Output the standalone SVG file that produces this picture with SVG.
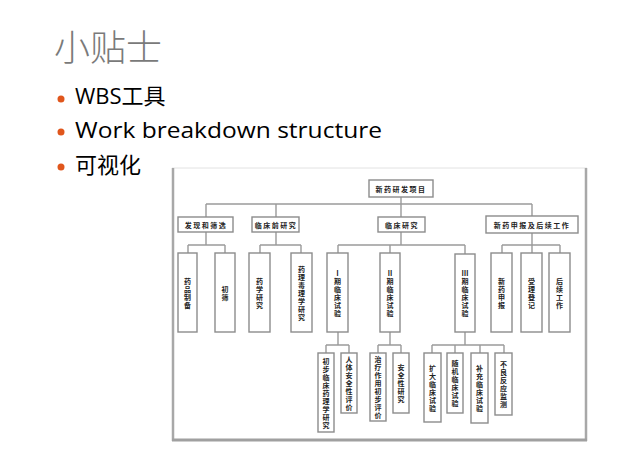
<svg xmlns="http://www.w3.org/2000/svg" width="640" height="458" viewBox="0 0 640 458">
<style>
.title{font-family:"Noto Sans CJK SC","Noto Sans",sans-serif;font-weight:300;font-size:36px;fill:#7a7a7a}
.bl{font-family:"Open Sans","Noto Sans CJK SC",sans-serif;font-size:22px;fill:#000}
.dot{fill:#e0561c}
.box{fill:#fff;stroke:#8c8c8c;stroke-width:1.4}
.ln{fill:none;stroke:#9a9a9a;stroke-width:1.4}
.t{font-family:"Noto Sans CJK SC",sans-serif;font-weight:700;font-size:7px;fill:#222;letter-spacing:1.5px;text-anchor:middle;dominant-baseline:central}
.v{letter-spacing:0}
</style>
<rect width="640" height="458" fill="#fff"/>
<text class="title" x="54" y="61">小贴士</text>
<circle class="dot" cx="61" cy="99" r="3.5"/>
<circle class="dot" cx="61" cy="132" r="3.5"/>
<circle class="dot" cx="61" cy="167" r="3.5"/>
<text class="bl" x="75" y="104">WBS工具</text>
<text class="bl" x="75" y="138" textLength="307" lengthAdjust="spacingAndGlyphs">Work breakdown structure</text>
<text class="bl" x="75" y="173">可视化</text>
<g id="frame">
<line x1="172" y1="168" x2="587" y2="168" stroke="#e2e2e2" stroke-width="1"/>
<line x1="173" y1="168" x2="173" y2="441" stroke="#a8a8a8" stroke-width="2.5"/>
<line x1="586" y1="168" x2="586" y2="441" stroke="#a8a8a8" stroke-width="2.5"/>
<line x1="172" y1="440" x2="587" y2="440" stroke="#a0a0a0" stroke-width="3"/>
</g>
<g id="connectors" class="ln">
<path d="M401 197V217M206 204H532M206 204V217M276 204V217M532 204V216"/>
<path d="M206 232V245M188 245H225M188 245V253M225 245V253"/>
<path d="M276 232V245M260 245H301M260 245V253M301 245V253"/>
<path d="M401 232V245M338 245H465M338 245V253M390 245V253M465 245V254"/>
<path d="M532 233V245M502 245H560M502 245V253M532 245V253M560 245V253"/>
<path d="M338 332V345M326 345H349M326 345V353M349 345V353"/>
<path d="M390 332V345M378 345H401M378 345V353M401 345V353"/>
<path d="M465 332V345M432 345H504M432 345V353M455 345V353M480 345V353M504 345V353"/>
</g>
<g id="n0"><rect class="box" x="369" y="180" width="64" height="17"/><text class="t" x="401" y="188.5">新药研发项目</text></g>
<g id="n1"><rect class="box" x="178" y="217" width="55" height="15"/><text class="t" x="206" y="224.5">发现和筛选</text></g>
<g id="n2"><rect class="box" x="252" y="217" width="47" height="15"/><text class="t" x="276" y="224.5">临床前研究</text></g>
<g id="n3"><rect class="box" x="378" y="217" width="47" height="15"/><text class="t" x="402" y="224.5">临床研究</text></g>
<g id="n4"><rect class="box" x="486" y="216" width="92" height="17"/><text class="t" x="532" y="224.5">新药申报及后续工作</text></g>
<g id="n11"><rect class="box" x="178" y="253" width="19" height="79"/><text class="t v" x="187.5 187.5 187.5 187.5" y="280.5 288.5 296.5 304.5">药品制备</text></g>
<g id="n12"><rect class="box" x="215" y="253" width="20" height="79"/><text class="t v" x="225 225" y="288.5 296.5">初筛</text></g>
<g id="n21"><rect class="box" x="249" y="253" width="21" height="79"/><text class="t v" x="259.5 259.5 259.5 259.5" y="280.5 288.5 296.5 304.5">药学研究</text></g>
<g id="n22"><rect class="box" x="291" y="253" width="21" height="79"/><text class="t v" x="301.5 301.5 301.5 301.5 301.5 301.5 301.5" y="268.5 276.5 284.5 292.5 300.5 308.5 316.5">药理毒理学研究</text></g>
<g id="n31"><rect class="box" x="327" y="253" width="21" height="79"/><text class="t v" x="337.5 337.5 337.5 337.5 337.5 337.5" y="272.5 280.5 288.5 296.5 304.5 312.5">Ⅰ期临床试验</text></g>
<g id="n32"><rect class="box" x="380" y="253" width="20" height="79"/><text class="t v" x="390 390 390 390 390 390" y="272.5 280.5 288.5 296.5 304.5 312.5">Ⅱ期临床试验</text></g>
<g id="n33"><rect class="box" x="455" y="254" width="20" height="78"/><text class="t v" x="465 465 465 465 465 465" y="273 281 289 297 305 313">Ⅲ期临床试验</text></g>
<g id="n41"><rect class="box" x="491" y="253" width="21" height="79"/><text class="t v" x="501.5 501.5 501.5 501.5" y="280.5 288.5 296.5 304.5">新药申报</text></g>
<g id="n42"><rect class="box" x="521" y="253" width="21" height="79"/><text class="t v" x="531.5 531.5 531.5 531.5" y="280.5 288.5 296.5 304.5">受理登记</text></g>
<g id="n43"><rect class="box" x="549" y="253" width="21" height="79"/><text class="t v" x="559.5 559.5 559.5 559.5" y="280.5 288.5 296.5 304.5">后续工作</text></g>
<g id="n311"><rect class="box" x="318" y="353" width="16" height="79"/><text class="t v" x="326 326 326 326 326 326 326 326 326" y="360.5 368.5 376.5 384.5 392.5 400.5 408.5 416.5 424.5">初步临床药理学研究</text></g>
<g id="n312"><rect class="box" x="341" y="353" width="16" height="60"/><text class="t v" x="349 349 349 349 349 349 349" y="359 367 375 383 391 399 407">人体安全性评价</text></g>
<g id="n321"><rect class="box" x="370" y="353" width="16" height="68"/><text class="t v" x="378 378 378 378 378 378 378 378" y="359 367 375 383 391 399 407 415">治疗作用初步评价</text></g>
<g id="n322"><rect class="box" x="393" y="353" width="16" height="60"/><text class="t v" x="401 401 401 401 401" y="367 375 383 391 399">安全性研究</text></g>
<g id="n331"><rect class="box" x="424" y="353" width="17" height="69"/><text class="t v" x="432.5 432.5 432.5 432.5 432.5 432.5" y="367.5 375.5 383.5 391.5 399.5 407.5">扩大临床试验</text></g>
<g id="n332"><rect class="box" x="447" y="353" width="16" height="60"/><text class="t v" x="455 455 455 455 455 455" y="363 371 379 387 395 403">随机临床试验</text></g>
<g id="n333"><rect class="box" x="471" y="353" width="17" height="70"/><text class="t v" x="479.5 479.5 479.5 479.5 479.5 479.5" y="368 376 384 392 400 408">补充临床试验</text></g>
<g id="n334"><rect class="box" x="495" y="353" width="17" height="62"/><text class="t v" x="503.5 503.5 503.5 503.5 503.5 503.5" y="364 372 380 388 396 404">不良反应监测</text></g>
</svg>
